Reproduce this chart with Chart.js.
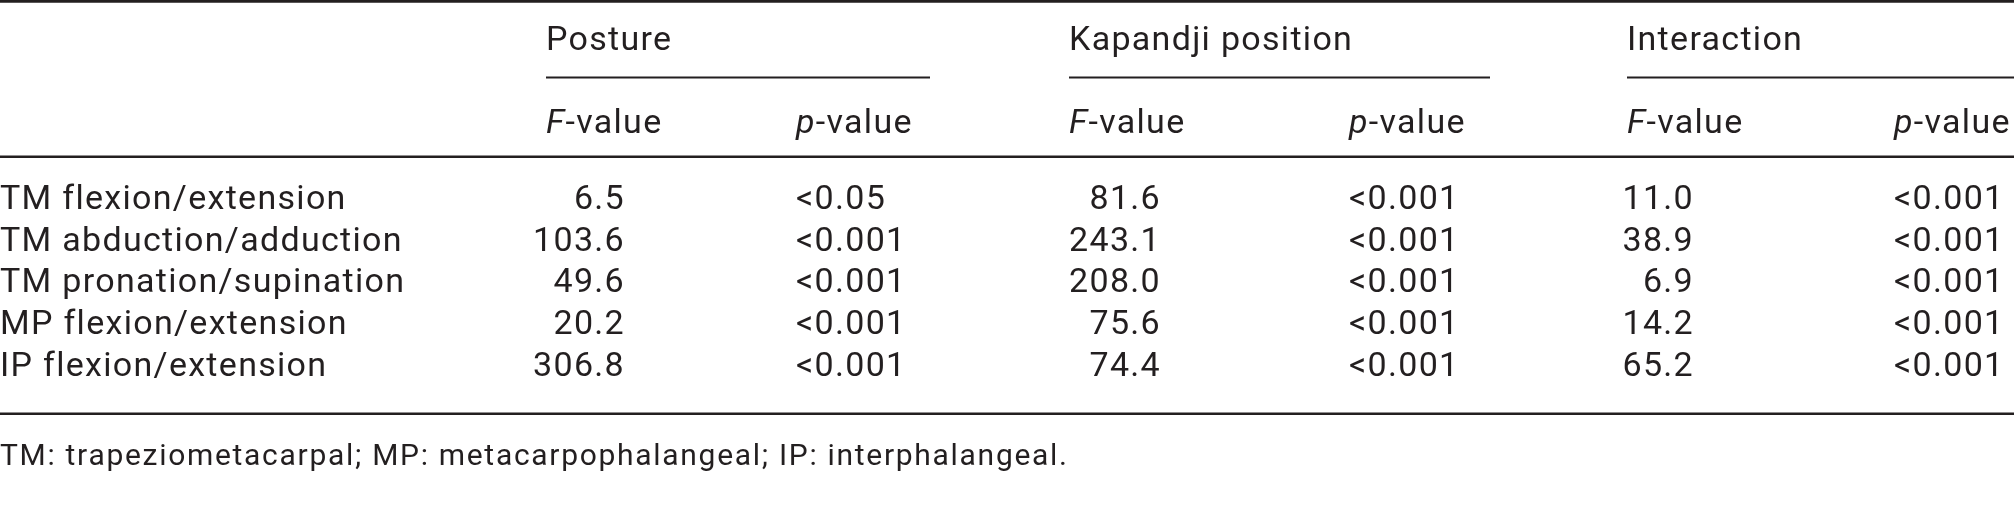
<!DOCTYPE html>
<html>
<head>
<meta charset="utf-8">
<script src="https://cdn.jsdelivr.net/npm/chart.js@4"></script>
<style>
  html, body { margin: 0; padding: 0; background: #fff; }
  canvas { display: block; }
</style>
</head>
<body>
<canvas id="tableChart" width="2014" height="506"></canvas>
<script>
// table content
const rowLabels = ["TM flexion/extension", "TM abduction/adduction", "TM pronation/supination", "MP flexion/extension", "IP flexion/extension"];
const groupLabels = ["Posture", "Kapandji position", "Interaction"];
const postureF = [6.5, 103.6, 49.6, 20.2, 306.8];
const postureP = ["<0.05", "<0.001", "<0.001", "<0.001", "<0.001"];
const kapandjiF = [81.6, 243.1, 208.0, 75.6, 74.4];
const kapandjiP = ["<0.001", "<0.001", "<0.001", "<0.001", "<0.001"];
const interactionF = [11.0, 38.9, 6.9, 14.2, 65.2];
const interactionP = ["<0.001", "<0.001", "<0.001", "<0.001", "<0.001"];
const footnote = "TM: trapeziometacarpal; MP: metacarpophalangeal; IP: interphalangeal.";

// layout (x in canvas units, y in row units)
const INK = "#231f20";
const FONT = "34px Roboto";
const FOOT_FONT = "30px Roboto";
const TEXT_DY = 4;
const groupLeft = [546, 1069, 1627];
const groupRight = [930, 1490, 2014];
const fRight = [625, 1161, 1694];
const pLeft = [796, 1349, 1894];
const Y = { top: -4.68, group: -3.82, underline: -2.85, sub: -1.82, rule: -0.95, bottom: 5.21, foot: 6.15 };

const columns = [
  { values: rowLabels, x: 0, align: "left" },
  { values: postureF.map(v => v.toFixed(1)), x: fRight[0], align: "right" },
  { values: postureP, x: pLeft[0], align: "left" },
  { values: kapandjiF.map(v => v.toFixed(1)), x: fRight[1], align: "right" },
  { values: kapandjiP, x: pLeft[1], align: "left" },
  { values: interactionF.map(v => v.toFixed(1)), x: fRight[2], align: "right" },
  { values: interactionP, x: pLeft[2], align: "left" },
];

const tablePlugin = {
  id: "tablePlugin",
  afterDatasetsDraw(chart) {
    const ctx = chart.ctx;
    const xs = chart.scales.x, ys = chart.scales.y;
    const px = v => xs.getPixelForValue(v);
    const py = v => ys.getPixelForValue(v);
    ctx.save();
    ctx.fillStyle = INK;
    ctx.strokeStyle = INK;
    ctx.textBaseline = "middle";
    ctx.letterSpacing = "1.3px";

    // cells
    ctx.font = FONT;
    chart.data.datasets.forEach((ds, k) => {
      ctx.textAlign = ds.align;
      chart.getDatasetMeta(k).data.forEach((el, i) => {
        ctx.fillText(ds.labels[i], el.x, el.y + TEXT_DY);
      });
    });

    // group headers
    ctx.textAlign = "left";
    groupLabels.forEach((g, i) => ctx.fillText(g, px(groupLeft[i]), py(Y.group) + TEXT_DY));

    // sub headers with italic letter
    const sub = (letter, x) => {
      ctx.font = "italic " + FONT;
      ctx.fillText(letter, px(x), py(Y.sub) + TEXT_DY);
      const w = ctx.measureText(letter).width;
      ctx.font = FONT;
      ctx.fillText("-value", px(x) + w, py(Y.sub) + TEXT_DY);
    };
    for (let i = 0; i < 3; i++) {
      sub("F", groupLeft[i]);
      sub("p", pLeft[i]);
    }

    // footnote
    ctx.font = FOOT_FONT;
    ctx.letterSpacing = "1.7px";
    ctx.fillText(footnote, px(0), py(Y.foot) + TEXT_DY);

    // rules
    const hline = (x0, x1, y, w) => {
      ctx.lineWidth = w;
      ctx.beginPath();
      ctx.moveTo(px(x0), py(y));
      ctx.lineTo(px(x1), py(y));
      ctx.stroke();
    };
    hline(0, 2014, Y.top, 3);
    for (let i = 0; i < 3; i++) hline(groupLeft[i], groupRight[i], Y.underline, 2);
    hline(0, 2014, Y.rule, 2.5);
    hline(0, 2014, Y.bottom, 2.5);
    ctx.restore();
  }
};

const ctx = document.getElementById("tableChart").getContext("2d");
new Chart(ctx, {
  type: "scatter",
  data: {
    datasets: columns.map(c => ({
      data: c.values.map((v, i) => ({ x: c.x, y: i })),
      labels: c.values,
      align: c.align,
      pointRadius: 0,
      pointHoverRadius: 0,
    })),
  },
  options: {
    responsive: false,
    animation: false,
    devicePixelRatio: 1,
    layout: { padding: 0 },
    events: [],
    scales: {
      x: { type: "linear", min: 0, max: 2014, display: false },
      y: { type: "linear", min: -4.71, max: 7.42, reverse: true, display: false },
    },
    plugins: {
      legend: { display: false },
      tooltip: { enabled: false },
    },
  },
  plugins: [tablePlugin],
});
</script>
</body>
</html>
